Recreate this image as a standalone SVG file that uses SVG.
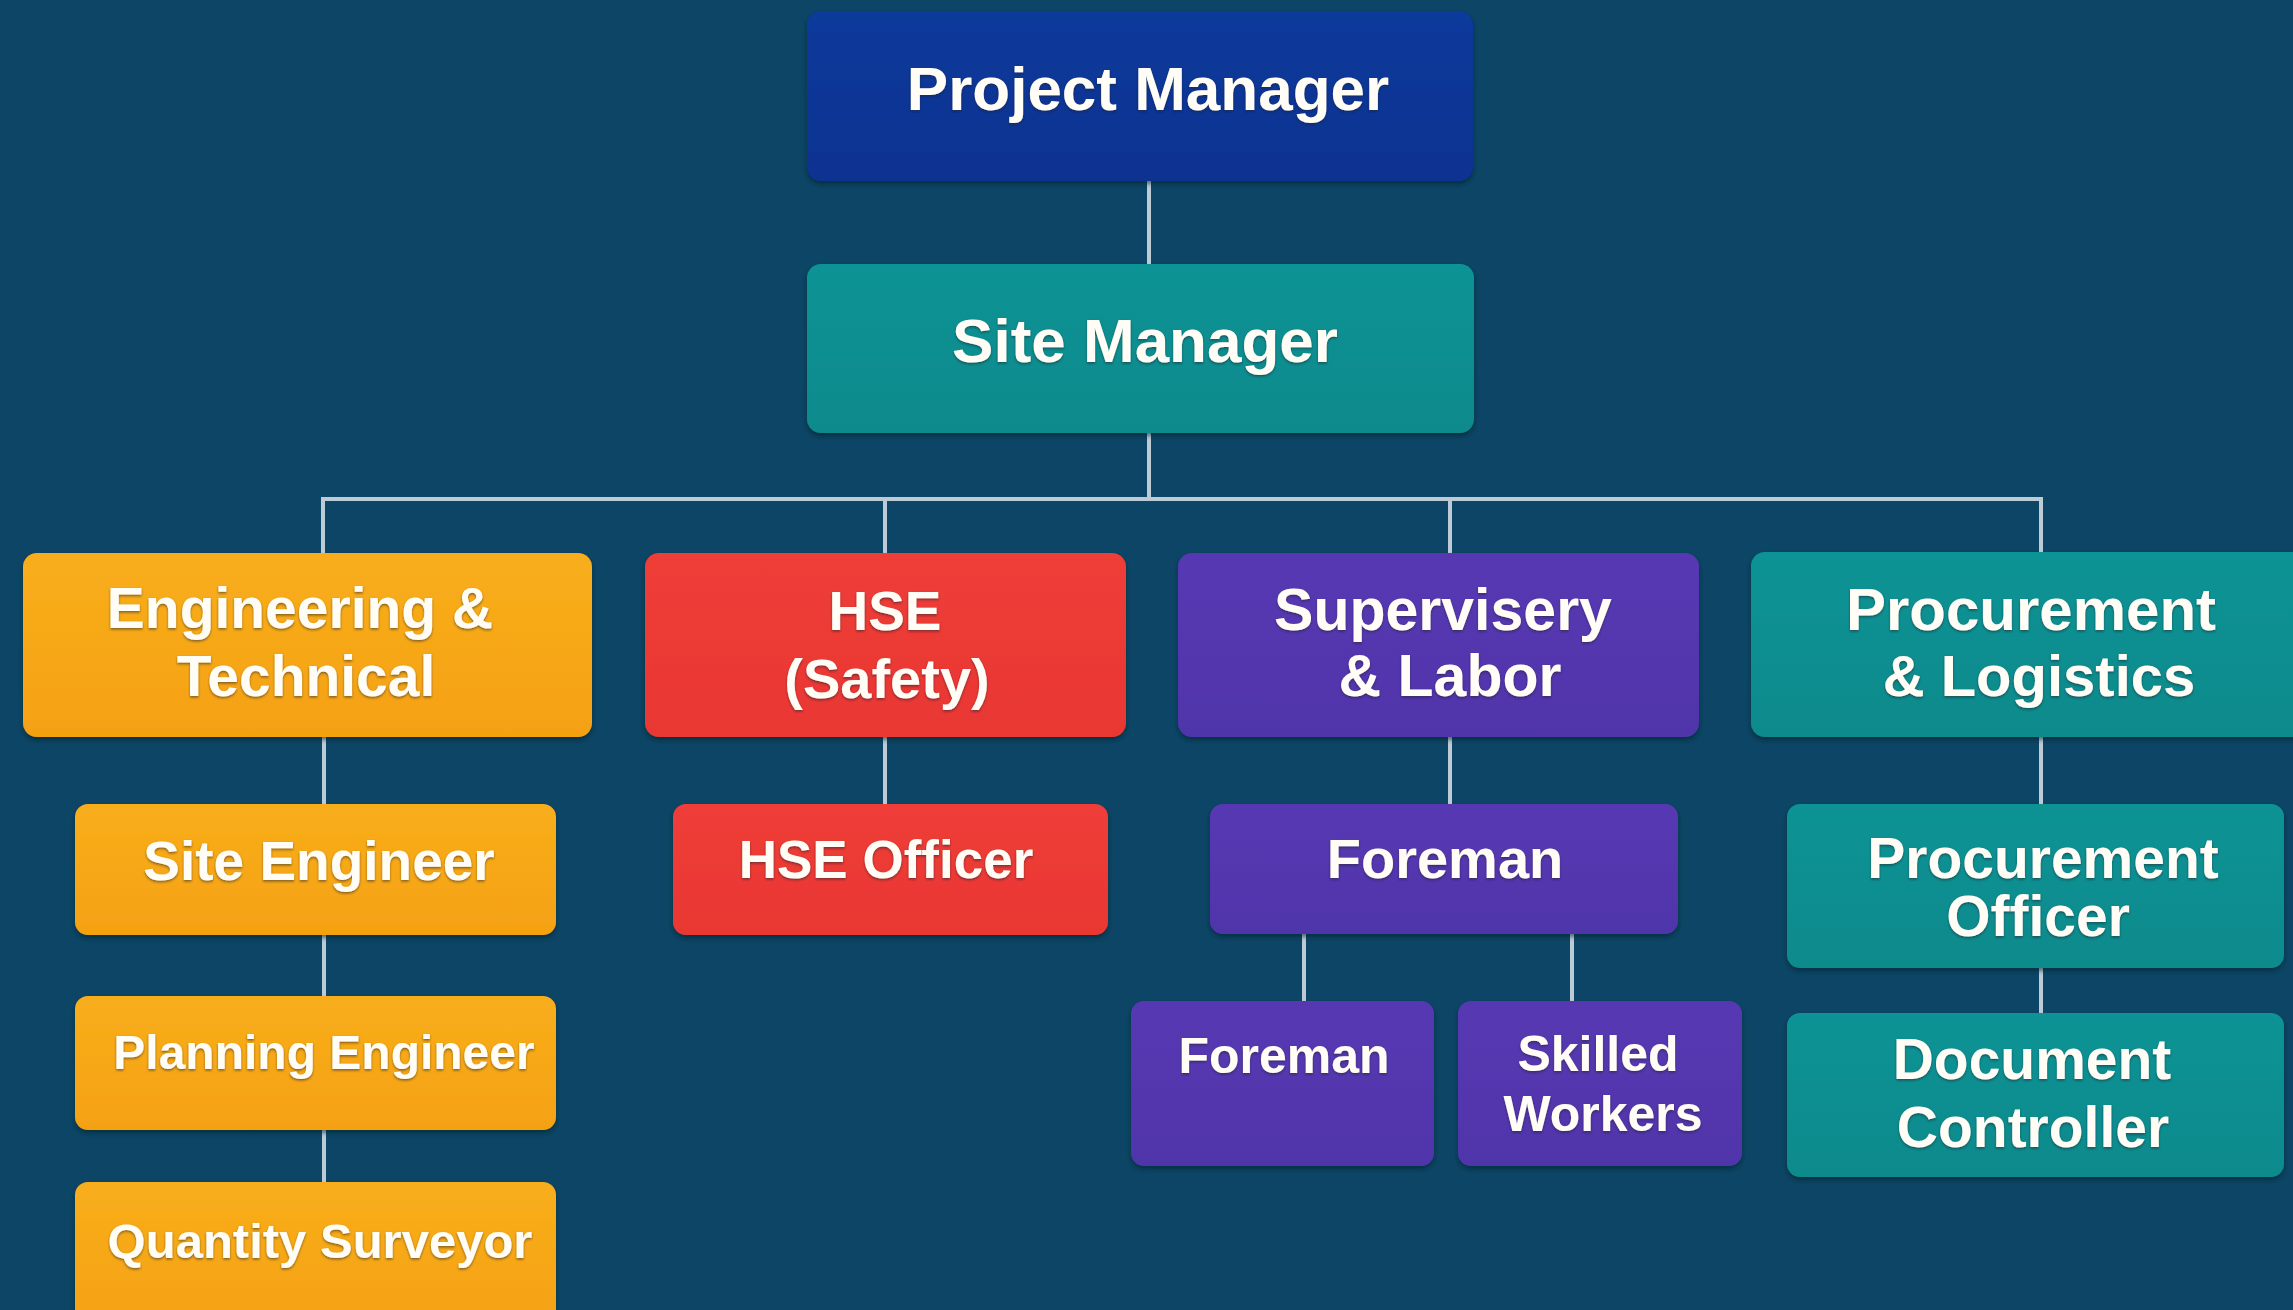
<svg xmlns="http://www.w3.org/2000/svg" width="2293" height="1310" viewBox="0 0 2293 1310">
<defs>
<linearGradient id="gBlue" x1="0" y1="0" x2="0" y2="1"><stop offset="0" stop-color="#0B3A9C"/><stop offset="1" stop-color="#0A3290"/></linearGradient>
<linearGradient id="gTeal" x1="0" y1="0" x2="0" y2="1"><stop offset="0" stop-color="#0E9395"/><stop offset="1" stop-color="#0B8A8C"/></linearGradient>
<linearGradient id="gOrange" x1="0" y1="0" x2="0" y2="1"><stop offset="0" stop-color="#F8AE1C"/><stop offset="1" stop-color="#F5A111"/></linearGradient>
<linearGradient id="gRed" x1="0" y1="0" x2="0" y2="1"><stop offset="0" stop-color="#EF3D38"/><stop offset="1" stop-color="#E93733"/></linearGradient>
<linearGradient id="gPurple" x1="0" y1="0" x2="0" y2="1"><stop offset="0" stop-color="#5739B3"/><stop offset="1" stop-color="#5034AA"/></linearGradient>
<filter id="shadow" x="-5%" y="-5%" width="110%" height="120%"><feDropShadow dx="0" dy="3" stdDeviation="2" flood-color="#021A2A" flood-opacity="0.55"/></filter>
<filter id="tshadow" x="-5%" y="-10%" width="110%" height="130%"><feDropShadow dx="0" dy="1.5" stdDeviation="1.2" flood-color="#1a1a2a" flood-opacity="0.55"/></filter>
</defs>
<style>
.bg{fill:#0C4565}
.box{filter:url(#shadow)}
.blue{fill:url(#gBlue)}
.teal{fill:url(#gTeal)}
.orange{fill:url(#gOrange)}
.red{fill:url(#gRed)}
.purple{fill:url(#gPurple)}
text{font-family:"Liberation Sans",Arial,sans-serif;font-weight:bold;fill:#FFFDF6;text-anchor:middle;filter:url(#tshadow)}
.conn line{stroke:#BCCBD6;stroke-width:4;stroke-linecap:butt}
</style>
<rect class="bg" x="0" y="0" width="2293" height="1310"/>

<g class="conn" id="connectors">
<line x1="1149" y1="181" x2="1149" y2="265"/>
<line x1="1149" y1="433" x2="1149" y2="499"/>
<line x1="321" y1="499" x2="2043" y2="499" stroke-width="5"/>
<line x1="323" y1="497" x2="323" y2="553"/>
<line x1="885" y1="497" x2="885" y2="553"/>
<line x1="1450" y1="497" x2="1450" y2="553"/>
<line x1="2041" y1="497" x2="2041" y2="553"/>
<line x1="324" y1="737" x2="324" y2="804"/>
<line x1="324" y1="935" x2="324" y2="996"/>
<line x1="324" y1="1130" x2="324" y2="1182"/>
<line x1="885" y1="737" x2="885" y2="804"/>
<line x1="1450" y1="737" x2="1450" y2="804"/>
<line x1="1304" y1="934" x2="1304" y2="1001"/>
<line x1="1572" y1="934" x2="1572" y2="1001"/>
<line x1="2041" y1="737" x2="2041" y2="804"/>
<line x1="2041" y1="968" x2="2041" y2="1013"/>
</g>

<g id="project-manager"><rect class="box blue" x="807" y="11" width="666" height="170" rx="14"/><text x="1148" y="110" font-size="62">Project Manager</text></g>
<g id="site-manager"><rect class="box teal" x="807" y="264" width="667" height="169" rx="14"/><text x="1145" y="362" font-size="62">Site Manager</text></g>

<g id="engineering"><rect class="box orange" x="23" y="553" width="569" height="184" rx="14"/><text x="300" y="628" font-size="57">Engineering &amp;</text><text x="306" y="696" font-size="57">Technical</text></g>
<g id="hse"><rect class="box red" x="645" y="553" width="481" height="184" rx="14"/><text x="885" y="630" font-size="55">HSE</text><text x="887" y="698" font-size="56">(Safety)</text></g>
<g id="supervisery"><rect class="box purple" x="1178" y="553" width="521" height="184" rx="14"/><text x="1443" y="630" font-size="59">Supervisery</text><text x="1450" y="696" font-size="59">&amp; Labor</text></g>
<g id="procurement"><rect class="box teal" x="1751" y="552" width="560" height="185" rx="14"/><text x="2031" y="630" font-size="60">Procurement</text><text x="2039" y="696" font-size="58">&amp; Logistics</text></g>

<g id="site-engineer"><rect class="box orange" x="75" y="804" width="481" height="131" rx="13"/><text x="319" y="880" font-size="55">Site Engineer</text></g>
<g id="planning-engineer"><rect class="box orange" x="75" y="996" width="481" height="134" rx="13"/><text x="324" y="1069" font-size="48">Planning Engineer</text></g>
<g id="quantity-surveyor"><rect class="box orange" x="75" y="1182" width="481" height="150" rx="13"/><text x="320" y="1258" font-size="49">Quantity Surveyor</text></g>

<g id="hse-officer"><rect class="box red" x="673" y="804" width="435" height="131" rx="13"/><text x="886" y="878" font-size="53">HSE Officer</text></g>

<g id="foreman"><rect class="box purple" x="1210" y="804" width="468" height="130" rx="13"/><text x="1445" y="878" font-size="56">Foreman</text></g>
<g id="foreman-2"><rect class="box purple" x="1131" y="1001" width="303" height="165" rx="13"/><text x="1284" y="1073" font-size="50">Foreman</text></g>
<g id="skilled-workers"><rect class="box purple" x="1458" y="1001" width="284" height="165" rx="13"/><text x="1598" y="1071" font-size="50">Skilled</text><text x="1603" y="1131" font-size="50">Workers</text></g>

<g id="procurement-officer"><rect class="box teal" x="1787" y="804" width="497" height="164" rx="13"/><text x="2043" y="878" font-size="57">Procurement</text><text x="2038" y="936" font-size="57">Officer</text></g>
<g id="document-controller"><rect class="box teal" x="1787" y="1013" width="497" height="164" rx="13"/><text x="2032" y="1079" font-size="57">Document</text><text x="2033" y="1147" font-size="57">Controller</text></g>
</svg>
